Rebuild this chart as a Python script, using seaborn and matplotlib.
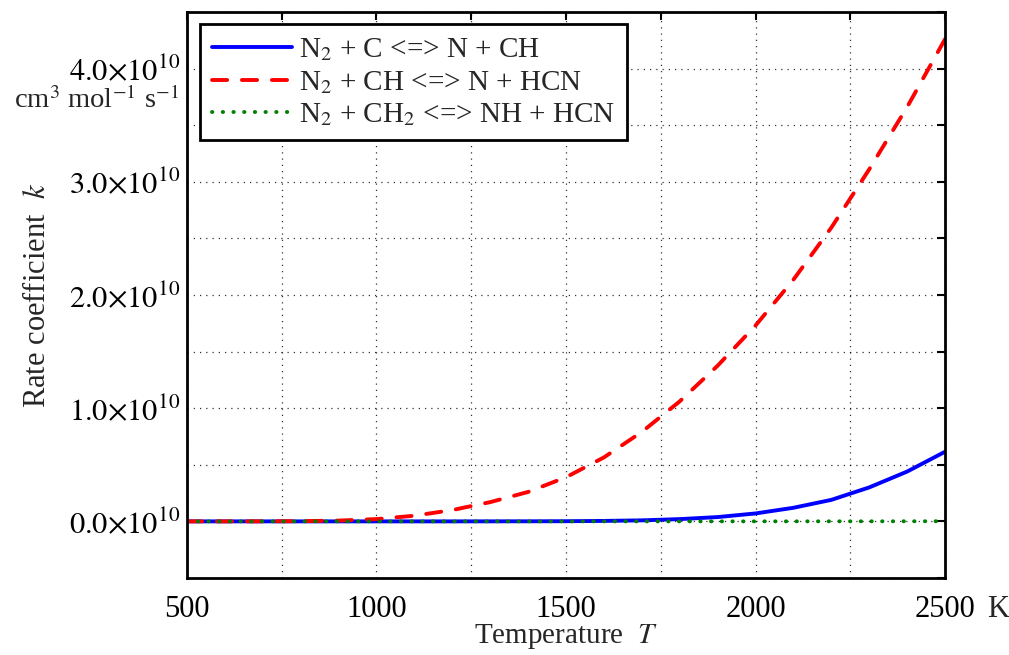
import numpy as np
import pandas as pd
import matplotlib
matplotlib.use("Agg")
import matplotlib.pyplot as plt
import seaborn as sns
from matplotlib.ticker import MultipleLocator, FuncFormatter

# ---- data (values in units of 1e10 cm^3 mol^-1 s^-1) ----
temperature = [500, 600, 700, 800, 900, 1000, 1100, 1200, 1300, 1400, 1500,
               1600, 1700, 1800, 1900, 2000, 2100, 2200, 2300, 2400, 2500]
k_n2_c = [0.0, 0.0, 0.0, 0.0, 0.0, 0.0, 0.0, 0.0, 0.0003, 0.0007, 0.0015,
          0.004, 0.009, 0.02, 0.038, 0.07, 0.12, 0.19, 0.30, 0.44, 0.615]
k_n2_ch = [0.0, 0.0001, 0.0005, 0.002, 0.007, 0.02, 0.05, 0.10, 0.17, 0.26, 0.39,
           0.565, 0.79, 1.06, 1.375, 1.73, 2.135, 2.595, 3.11, 3.66, 4.26]
k_n2_ch2 = [0.0, 0.0, 0.0, 0.0, 0.0, 0.0, 0.0, 0.0, 0.0, 0.0, 0.0,
            0.0, 0.0, 0.0, 0.0001, 0.0002, 0.0003, 0.0005, 0.0007, 0.001, 0.0015]
labels = [r"N$_2$ + C <=> N + CH",
          r"N$_2$ + CH <=> N + HCN",
          r"N$_2$ + CH$_2$ <=> NH + HCN"]
x_ticklabels = {500: "500", 1000: "1000", 1500: "1500", 2000: "2000", 2500: "2500"}
x_unit = "K"
y_ticklabels = [0, 1, 2, 3, 4]
y_unit = r"cm$^3$ mol$^{-1}$ s$^{-1}$"

sns.set_theme(style="white")
plt.rcParams["font.family"] = ["Liberation Serif", "DejaVu Serif"]
plt.rcParams["mathtext.fontset"] = "stix"

fig = plt.figure(figsize=(10.09, 6.55), dpi=100)
ax = fig.add_axes([0.1853, 0.1176, 0.7513, 0.8641])

scale = 1e10
series = [k_n2_c, k_n2_ch, k_n2_ch2]
colors = ["#0000ff", "#ff0000", "#008000"]
for vals, lab, col in zip(series, labels, colors):
    df = pd.DataFrame({"T": temperature, "k": np.array(vals) * scale})
    sns.lineplot(data=df, x="T", y="k", ax=ax, color=col, label=lab, lw=2.8)

lines = ax.get_lines()
lines[0].set_solid_capstyle("round")
lines[1].set_dashes((3.9, 3.8))
lines[1].set_dash_capstyle("round")
lines[2].set_dashes((0.1, 2.65))
lines[2].set_dash_capstyle("round")

ax.set_xlim(500, 2500)
ax.set_ylim(-0.5 * scale, 4.5 * scale)
ax.xaxis.set_major_locator(MultipleLocator(250))
ax.yaxis.set_major_locator(MultipleLocator(0.5 * scale))

def xfmt(v, pos):
    return x_ticklabels.get(int(round(v)), "")

def yfmt(v, pos):
    n = v / scale
    for t in y_ticklabels:
        if abs(n - t) < 1e-6:
            return r"$%.1f{\times}10^{10}$" % t
    return ""

xpad = 12
ax.xaxis.set_major_formatter(FuncFormatter(xfmt))
ax.yaxis.set_major_formatter(FuncFormatter(yfmt))
ax.tick_params(direction="in", length=6, width=1.5, top=True, right=True,
               labelsize=22, colors="black")
ax.tick_params(axis="x", pad=xpad)
ax.tick_params(axis="y", pad=5)

ax.grid(True, color="black", linestyle=(0, (1, 4)), linewidth=0.9, alpha=0.8)
for s in ax.spines.values():
    s.set_visible(True)
    s.set_color("black")
    s.set_linewidth(2.0)

ax.annotate(x_unit, xy=(1, 0), xycoords="axes fraction", xytext=(30, -xpad),
            textcoords="offset points", ha="left", va="top", fontsize=22)

ax.set_xlabel(r"Temperature  $T$", fontsize=21, labelpad=-1)
ax.set_ylabel(r"Rate coefficient  $k$", fontsize=22, labelpad=12)
ax.text(-0.01, 3.72 * scale, y_unit, transform=ax.get_yaxis_transform(),
        ha="right", va="center", fontsize=20.5)

leg = ax.legend(loc="upper left", bbox_to_anchor=(0.017, 0.978), fontsize=21,
                handlelength=2.75, handletextpad=0.25, labelspacing=0.2,
                borderpad=0.4, borderaxespad=0.0, fancybox=False, framealpha=1,
                edgecolor="black")
leg.get_frame().set_linewidth(2.0)

fig.savefig("out.png", dpi=100)
